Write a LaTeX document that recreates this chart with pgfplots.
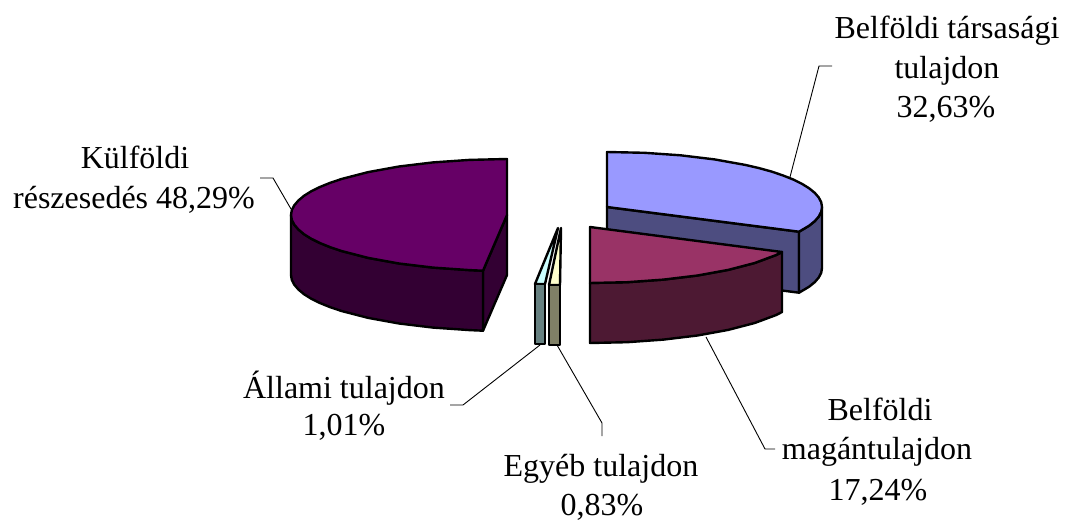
\documentclass[border=0pt]{standalone}
\usepackage{fontspec}
\setmainfont{Liberation Serif}
\usepackage{pgfplots}
\pgfplotsset{compat=1.18}
\definecolor{bluetop}{HTML}{9999FF}
\definecolor{blueside}{HTML}{4D4D80}
\definecolor{redtop}{HTML}{993366}
\definecolor{redside}{HTML}{4D1933}
\definecolor{purtop}{HTML}{660066}
\definecolor{purside}{HTML}{330033}
\definecolor{cyantop}{HTML}{CCFFFF}
\definecolor{cyanside}{HTML}{668080}
\definecolor{creamtop}{HTML}{FFFFCC}
\definecolor{creamside}{HTML}{808066}
\tikzset{lab/.style={font=\fontsize{32}{38}\selectfont,inner sep=0pt,anchor=base}}
\begin{document}
\begin{tikzpicture}[x=1pt,y=1pt]
\path[use as bounding box] (0,0) rectangle (1065,521);
\begin{axis}[at={(0,0)},anchor=south west,width=1065pt,height=521pt,scale only axis,
  xmin=0,xmax=1065,ymin=0,ymax=521,y dir=reverse,hide axis,clip=false,
  every axis plot/.append style={line join=round,mark=none}]
% leader lines
\addplot[black,line width=0.9pt] coordinates {(790,177)(819,66)(832,66)};
\addplot[black,line width=0.9pt] coordinates {(706,337)(765,449)(775,449)};
\addplot[black,line width=0.9pt] coordinates {(291,209)(273,178)(260,178)};
\addplot[black,line width=0.9pt] coordinates {(540,345)(463,405)(450,405)};
\addplot[black,line width=0.9pt] coordinates {(557,345)(602,423)(602,436)};
% blue slice
\addplot[fill=blueside,draw=black,line width=2.4pt] coordinates {(607,207)(799,231.7)(799,292.7)(607,268)} --cycle;
\addplot[fill=blueside,draw=black,line width=2.4pt] coordinates {(799,231.7)(809,225.8)(814.7,221.2)(818.7,216.6)(821.2,211.8)(822,207)(822,268)(821.2,272.8)(818.7,277.6)(814.7,282.2)(809,286.8)(799,292.7)} --cycle;
\addplot[fill=bluetop,draw=black,line width=2.4pt] coordinates {(607,207)(607,152)(644.3,152.8)(680.5,155.3)(714.5,159.4)(745.2,164.9)(759,168.1)(771.7,171.6)(783.1,175.5)(793.2,179.5)(801.9,183.8)(809,188.2)(814.7,192.8)(818.7,197.4)(821.2,202.2)(822,207)(821.2,211.8)(818.7,216.6)(814.7,221.2)(809,225.8)(799,231.7)} --cycle;
% red slice
\addplot[fill=redside,draw=black,line width=2.4pt] coordinates {(590,283)(627.3,282.2)(663.5,279.6)(697.5,275.5)(728.2,269.9)(754.7,263)(776.2,255)(782,252)(782,312)(776.2,315)(754.7,323)(728.2,329.9)(697.5,335.5)(663.5,339.6)(627.3,342.2)(590,343)} --cycle;
\addplot[fill=redtop,draw=black,line width=2.4pt] coordinates {(590,227)(782,252)(776.2,255)(754.7,263)(728.2,269.9)(697.5,275.5)(663.5,279.6)(627.3,282.2)(590,283)} --cycle;
% purple slice
\addplot[fill=purside,draw=black,line width=2.4pt] coordinates {(483,270.7)(507,215)(507,275)(483,330.7)} --cycle;
\addplot[fill=purside,draw=black,line width=2.4pt] coordinates {(291,215)(291.8,219.9)(294.3,224.7)(298.4,229.5)(304,234.2)(311.2,238.7)(319.9,243)(330,247.1)(341.5,251)(368.2,257.9)(399,263.5)(433.1,267.6)(469.5,270.1)(483,270.7)(483,330.7)(469.5,330.1)(433.1,327.6)(399,323.5)(368.2,317.9)(341.5,311)(330,307.1)(319.9,303)(311.2,298.7)(304,294.2)(298.4,289.5)(294.3,284.7)(291.8,279.9)(291,275)} --cycle;
\addplot[fill=purtop,draw=black,line width=2.4pt] coordinates {(507,215)(507,159)(469.5,159.9)(433.1,162.4)(399,166.5)(368.2,172.1)(341.5,179)(330,182.9)(319.9,187)(311.2,191.3)(304,195.8)(298.4,200.5)(294.3,205.3)(291.8,210.1)(291,215)(291.8,219.9)(294.3,224.7)(298.4,229.5)(304,234.2)(311.2,238.7)(319.9,243)(330,247.1)(341.5,251)(368.2,257.9)(399,263.5)(433.1,267.6)(469.5,270.1)(483,270.7)} --cycle;
% small slices
\addplot[fill=cyantop,draw=black,line width=2.4pt] coordinates {(558,228)(535,284)(545,284)} --cycle;
\addplot[fill=cyanside,draw=black,line width=2.4pt] coordinates {(535,284)(545,284)(545,344)(535,344)} --cycle;
\addplot[fill=creamtop,draw=black,line width=2.4pt] coordinates {(561,228)(549,285)(560,285)} --cycle;
\addplot[fill=creamside,draw=black,line width=2.4pt] coordinates {(549,285)(560,285)(560,345)(549,345)} --cycle;
% labels
\node[lab] at (axis cs:947,39) {Belföldi társasági};
\node[lab] at (axis cs:947,79) {tulajdon};
\node[lab] at (axis cs:946,118) {32,63\%};
\node[lab] at (axis cs:135,169) {Külföldi};
\node[lab] at (axis cs:134,209) {részesedés 48,29\%};
\node[lab] at (axis cs:344,398) {Állami tulajdon};
\node[lab] at (axis cs:344,435) {1,01\%};
\node[lab] at (axis cs:880,420) {Belföldi};
\node[lab] at (axis cs:877,459) {magántulajdon};
\node[lab] at (axis cs:878,500) {17,24\%};
\node[lab] at (axis cs:601,476) {Egyéb tulajdon};
\node[lab] at (axis cs:602,515) {0,83\%};
\end{axis}
\end{tikzpicture}
\end{document}
